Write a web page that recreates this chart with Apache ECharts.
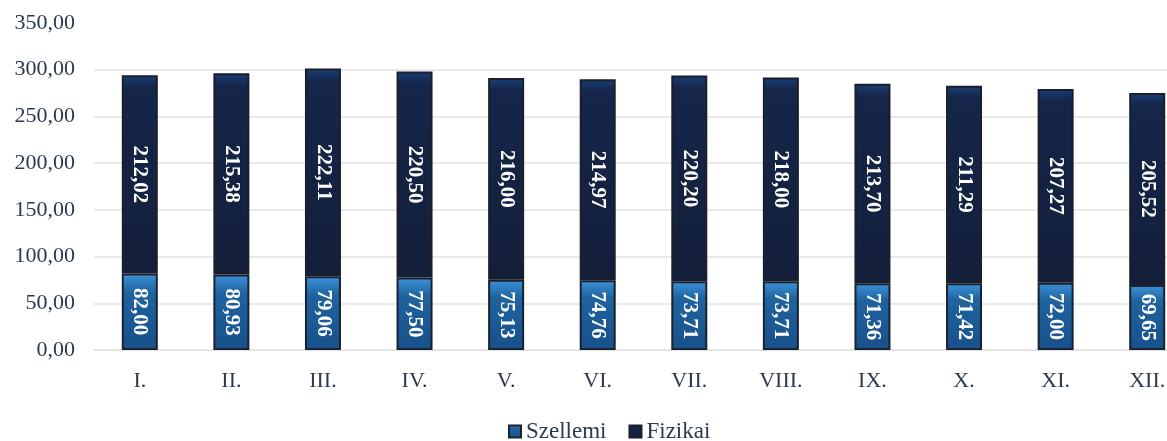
<!DOCTYPE html>
<html>
<head>
<meta charset="utf-8">
<script src="https://cdn.jsdelivr.net/npm/echarts@6/dist/echarts.min.js"></script>
<style>
html,body{margin:0;padding:0;background:#fff;}
#chart{width:1167px;height:441px;}
</style>
</head>
<body>
<div id="chart"></div>
<script>
const categories = ['I.', 'II.', 'III.', 'IV.', 'V.', 'VI.', 'VII.', 'VIII.', 'IX.', 'X.', 'XI.', 'XII.'];
const szellemi = [82.00, 80.93, 79.06, 77.50, 75.13, 74.76, 73.71, 73.71, 71.36, 71.42, 72.00, 69.65];
const fizikai = [212.02, 215.38, 222.11, 220.50, 216.00, 214.97, 220.20, 218.00, 213.70, 211.29, 207.27, 205.52];
const seriesNames = ['Szellemi', 'Fizikai'];

const fmt = v => v.toFixed(2).replace('.', ',');
const serif = 'Liberation Serif';
const textColor = '#2b3a4c';

const chart = echarts.init(document.getElementById('chart'));
const labelCfg = {
  show: true,
  position: 'inside',
  rotate: -90,
  color: '#ffffff',
  fontFamily: serif,
  fontWeight: 'bold',
  fontSize: 21,
  formatter: p => fmt(p.value)
};
chart.setOption({
  animation: false,
  backgroundColor: '#ffffff',
  grid: { left: 94, top: 23, bottom: 91, width: 1099, outerBoundsMode: 'none', containLabel: false },
  legend: {
    data: seriesNames,
    top: 415,
    left: 503,
    itemWidth: 12,
    itemHeight: 12,
    itemGap: 22,
    icon: 'rect',
    textStyle: { fontFamily: serif, fontSize: 23, color: textColor }
  },
  xAxis: {
    type: 'category',
    data: categories,
    axisTick: { show: false },
    axisLine: { show: true, lineStyle: { color: '#e2e2e2' } },
    axisLabel: { fontFamily: serif, fontSize: 22, color: textColor, margin: 20 }
  },
  yAxis: {
    type: 'value',
    min: 0, max: 350, interval: 50,
    axisLabel: { fontFamily: serif, fontSize: 22, color: textColor, margin: 19, formatter: v => fmt(v) },
    splitLine: { lineStyle: { color: ['#e2e2e2','#e2e2e2','#e2e2e2','#e2e2e2','#e2e2e2','#e2e2e2','#e2e2e2','rgba(0,0,0,0)'], width: 1.5 } }
  },
  series: [
    {
      name: seriesNames[0],
      type: 'bar',
      stack: 'total',
      data: szellemi,
      barWidth: 36,
      itemStyle: {
        color: new echarts.graphic.LinearGradient(0, 0, 0, 1, [
          { offset: 0, color: '#3d93da' },
          { offset: 0.25, color: '#1f639f' },
          { offset: 1, color: '#18508a' }
        ]),
        borderColor: '#1a2130',
        borderWidth: 2
      },
      label: labelCfg
    },
    {
      name: seriesNames[1],
      type: 'bar',
      stack: 'total',
      data: fizikai,
      barWidth: 36,
      itemStyle: {
        color: new echarts.graphic.LinearGradient(0, 0, 0, 1, [
          { offset: 0, color: '#1a3f78' },
          { offset: 0.06, color: '#15264a' },
          { offset: 1, color: '#141f3a' }
        ]),
        borderColor: '#1a1f2b',
        borderWidth: 2
      },
      label: labelCfg
    }
  ]
});
</script>
</body>
</html>
